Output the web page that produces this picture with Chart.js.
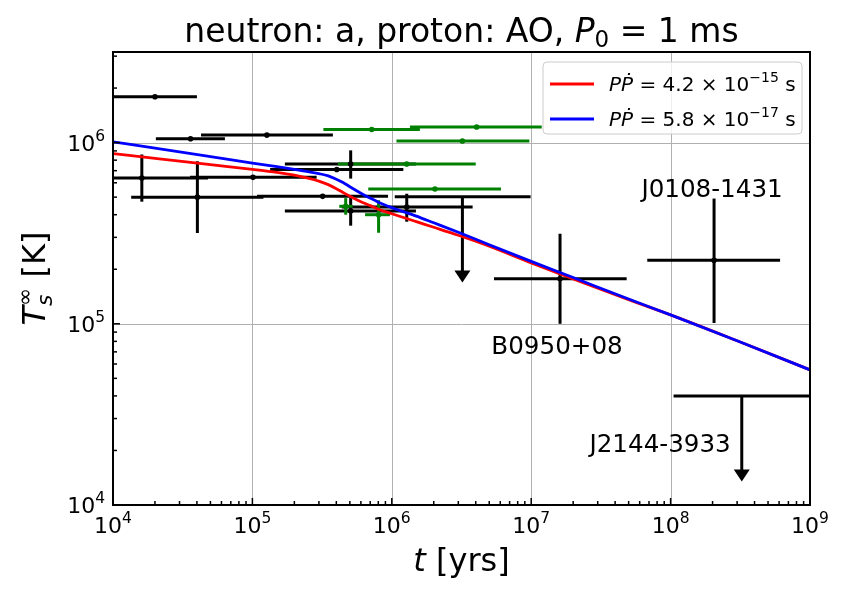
<!DOCTYPE html>
<html>
<head>
<meta charset="utf-8">
<script src="https://cdn.jsdelivr.net/npm/chart.js@4.4.0/dist/chart.umd.min.js"></script>
<style>
  html, body { margin: 0; padding: 0; background: #ffffff; }
  #wrap { width: 850px; height: 597px; position: relative; }
</style>
</head>
<body>
<div id="wrap"><canvas id="chart" width="850" height="597"></canvas></div>
<script>
"use strict";

// Axis ranges and decade ticks
const xMin = 1e4;
const xMax = 1e9;
const yMin = 1e4;
const yMax = Math.pow(10, 6.5);
const xTickExps = [4, 5, 6, 7, 8, 9];
const yTickExps = [4, 5, 6];

// Cooling curves: age [yr] -> T_s^inf [K]
const curveAge = [1e4, 2e4, 5e4, 1e5, 1.5e5, 2e5, 2.5e5, 3e5, 3.5e5, 4e5, 4.5e5, 5e5, 6e5, 7e5, 8e5,
  1e6, 1.5e6, 2e6, 3e6, 5e6, 1e7, 2e7, 5e7, 1e8, 3e8, 1e9];
const redTemp = [8.69e5, 8.19e5, 7.56e5, 7.12e5, 6.85e5, 6.61e5, 6.37e5, 6.13e5, 5.86e5, 5.57e5,
  5.29e5, 5.06e5, 4.72e5, 4.49e5, 4.29e5, 4.05e5, 3.66e5, 3.41e5, 3.08e5, 2.68e5, 2.17e5, 1.77e5,
  1.36e5, 1.12e5, 8.06e4, 5.57e4];
const blueTemp = [1.01e6, 9.33e5, 8.37e5, 7.70e5, 7.36e5, 7.12e5, 6.92e5, 6.74e5, 6.55e5, 6.28e5,
  6.01e5, 5.71e5, 5.26e5, 4.94e5, 4.69e5, 4.38e5, 3.93e5, 3.61e5, 3.20e5, 2.73e5, 2.21e5, 1.80e5,
  1.37e5, 1.12e5, 8.06e4, 5.57e4];
const curveLabels = ["4.2", "5.8"];
const curveExps = ["\u221215", "\u221217"];

// Black sources (null = no temperature error bar)
const blackAge = [2.0e4, 3.6e4, 1.27e5, 1.61e4, 1.01e5, 4.03e4, 3.19e5, 4.03e5, 5.07e5, 5.07e5, 1.28e6, 1.61e7, 2.05e8];
const blackAgeLo = [1.0e4, 2.03e4, 4.28e4, 5.4e3, 3.57e4, 1.35e4, 1.08e5, 1.34e5, 1.71e5, 1.71e5, 4.38e5, 5.41e6, 6.8e7];
const blackAgeHi = [4.0e4, 6.35e4, 3.78e5, 4.8e4, 2.89e5, 1.2e5, 9.4e5, 1.21e6, 1.49e6, 1.49e6, 3.8e6, 4.84e7, 6.1e8];
const blackTemp = [1.79e6, 1.05e6, 1.10e6, 6.38e5, 6.43e5, 5.0e5, 5.05e5, 7.1e5, 7.62e5, 4.19e5, 4.41e5, 1.77e5, 2.24e5];
const blackTempLo = [null, null, null, 4.72e5, null, 3.17e5, null, null, 6.33e5, 3.48e5, 3.66e5, 1.0e5, 1.01e5];
const blackTempHi = [null, null, null, 8.6e5, null, 7.89e5, null, null, 9.06e5, 5.05e5, 5.22e5, 3.14e5, 4.91e5];

// Green sources
const greenAge = [7.18e5, 4.06e6, 3.21e6, 1.28e6, 2.04e6, 4.67e5, 8.04e5];
const greenAgeLo = [3.23e5, 1.35e6, 1.08e6, 4.1e5, 6.78e5, 4.2e5, 6.43e5];
const greenAgeHi = [1.59e6, 1.19e7, 9.7e6, 4.0e6, 6.07e6, 5.24e5, 9.7e5];
const greenTemp = [1.18e6, 1.22e6, 1.02e6, 7.62e5, 5.55e5, 4.45e5, 4.0e5];
const greenTempLo = [null, null, null, null, null, 4.0e5, 3.18e5];
const greenTempHi = [null, null, null, null, null, 4.94e5, 4.81e5];

// Upper limits (arrow runs down to limArrowTo)
const limAge = [3.21e6, 3.24e8];
const limAgeLo = [1.05e6, 1.05e8];
const limAgeHi = [9.9e6, 1.0e9];
const limTemp = [5.03e5, 4.0e4];
const limArrowTo = [1.69e5, 1.35e4];

// Named sources
const sourceNames = ["B0950+08", "J0108-1431", "J2144-3933"];
const sourceAge = [1.61e7, 2.05e8, 3.24e8];
const sourceTemp = [1.77e5, 2.24e5, 4.0e4];

const FONT = "'DejaVu Sans', 'Liberation Sans', sans-serif";
const GREEN = "#008000";

// label offsets (px) relative to the source point
const namePlacement = [
  { dx: -3, dy: 66, align: "center" },
  { dx: -2, dy: -72, align: "center" },
  { dx: -11, dy: 47, align: "right" },
];

function fontOf(p) {
  return (p.italic ? "oblique " : "") + p.size + "px " + FONT;
}

/**
 * Draw a run of text pieces (sub/superscripts, italics) on one baseline
 */
function drawRich(ctx, parts, x, y, align) {
  let w = 0;
  parts.forEach((p) => {
    ctx.font = fontOf(p);
    p.w = ctx.measureText(p.t).width;
    if (!p.stack) w += p.w;
  });
  let cx = align === "center" ? x - w / 2 : align === "right" ? x - w : x;
  ctx.textAlign = "left";
  ctx.textBaseline = "alphabetic";
  parts.forEach((p) => {
    ctx.font = fontOf(p);
    ctx.fillText(p.t, cx + (p.dx || 0), y + (p.dy || 0));
    if (!p.stack) cx += p.w;
  });
  return w;
}

function minorValues(exps, max) {
  const out = [];
  for (let e = exps[0]; e <= exps[exps.length - 1]; e++) {
    for (let k = 2; k <= 9; k++) {
      const v = k * Math.pow(10, e);
      if (v < max) out.push(v);
    }
  }
  return out;
}

function line(ctx, x1, y1, x2, y2) {
  ctx.beginPath();
  ctx.moveTo(x1, y1);
  ctx.lineTo(x2, y2);
  ctx.stroke();
}

const gridPlugin = {
  id: "grid",
  beforeDatasetsDraw(chart) {
    const { ctx, chartArea: a, scales } = chart;
    ctx.save();
    ctx.strokeStyle = "#b0b0b0";
    ctx.lineWidth = 1;
    xTickExps.forEach((e) => {
      const px = Math.round(scales.x.getPixelForValue(Math.pow(10, e))) + 0.5;
      line(ctx, px, a.top, px, a.bottom);
    });
    yTickExps.forEach((e) => {
      const py = Math.round(scales.y.getPixelForValue(Math.pow(10, e))) + 0.5;
      line(ctx, a.left, py, a.right, py);
    });
    ctx.restore();
  },
};

function drawBars(chart, ages, lo, hi, temps, tlo, thi, color) {
  const { ctx, scales } = chart;
  ctx.strokeStyle = color;
  ctx.lineWidth = 3;
  ages.forEach((t, i) => {
    const px = scales.x.getPixelForValue(t);
    const py = scales.y.getPixelForValue(temps[i]);
    line(ctx, scales.x.getPixelForValue(lo[i]), py, scales.x.getPixelForValue(hi[i]), py);
    if (tlo[i] !== null) {
      line(ctx, px, scales.y.getPixelForValue(tlo[i]), px, scales.y.getPixelForValue(thi[i]));
    }
  });
}

const errorBarPlugin = {
  id: "errorBars",
  beforeDatasetsDraw(chart) {
    const { ctx, chartArea: a, scales } = chart;
    ctx.save();
    ctx.beginPath();
    ctx.rect(a.left, a.top, a.right - a.left, a.bottom - a.top);
    ctx.clip();
    drawBars(chart, blackAge, blackAgeLo, blackAgeHi, blackTemp, blackTempLo, blackTempHi, "#000000");
    drawBars(chart, greenAge, greenAgeLo, greenAgeHi, greenTemp, greenTempLo, greenTempHi, GREEN);

    // upper limits with arrows
    ctx.strokeStyle = "#000000";
    ctx.fillStyle = "#000000";
    limAge.forEach((t, i) => {
      const px = scales.x.getPixelForValue(t);
      const py = scales.y.getPixelForValue(limTemp[i]);
      const tip = scales.y.getPixelForValue(limArrowTo[i]);
      ctx.lineWidth = 3;
      line(ctx, scales.x.getPixelForValue(limAgeLo[i]), py, scales.x.getPixelForValue(limAgeHi[i]), py);
      line(ctx, px, py, px, tip - 10);
      ctx.beginPath();
      ctx.moveTo(px - 8, tip - 12);
      ctx.lineTo(px + 8, tip - 12);
      ctx.lineTo(px, tip);
      ctx.closePath();
      ctx.fill();
    });
    ctx.restore();
  },
};

const framePlugin = {
  id: "frame",
  afterDatasetsDraw(chart) {
    const { ctx, chartArea: a, scales } = chart;
    ctx.save();
    ctx.strokeStyle = "#000000";
    ctx.lineWidth = 1.5;
    // inward ticks
    xTickExps.forEach((e) => {
      const px = scales.x.getPixelForValue(Math.pow(10, e));
      line(ctx, px, a.bottom, px, a.bottom - 7);
    });
    minorValues(xTickExps, xMax).forEach((v) => {
      const px = scales.x.getPixelForValue(v);
      line(ctx, px, a.bottom, px, a.bottom - 4);
    });
    yTickExps.forEach((e) => {
      const py = scales.y.getPixelForValue(Math.pow(10, e));
      line(ctx, a.left, py, a.left + 7, py);
    });
    minorValues(yTickExps, yMax).forEach((v) => {
      const py = scales.y.getPixelForValue(v);
      line(ctx, a.left, py, a.left + 4, py);
    });
    ctx.lineWidth = 2;
    ctx.strokeRect(a.left, a.top, a.right - a.left, a.bottom - a.top);
    ctx.restore();
  },
};

const textPlugin = {
  id: "texts",
  afterDraw(chart) {
    const { ctx, chartArea: a, scales } = chart;
    const cx = (a.left + a.right) / 2;
    ctx.save();
    ctx.fillStyle = "#000000";

    // title
    drawRich(ctx, [
      { t: "neutron: a, proton: AO, ", size: 33 },
      { t: "P", size: 33, italic: true },
      { t: "0", size: 23, dy: 5 },
      { t: " = 1 ms", size: 33 },
    ], cx, 42, "center");

    // tick labels
    xTickExps.forEach((e) => {
      const px = scales.x.getPixelForValue(Math.pow(10, e));
      drawRich(ctx, [{ t: "10", size: 22 }, { t: String(e), size: 15.5, dy: -10 }], px, a.bottom + 28, "center");
    });
    yTickExps.forEach((e) => {
      const py = scales.y.getPixelForValue(Math.pow(10, e));
      drawRich(ctx, [{ t: "10", size: 22 }, { t: String(e), size: 15.5, dy: -10 }], a.left - 8, py + 8, "right");
    });

    // axis titles
    drawRich(ctx, [{ t: "t", size: 32, italic: true }, { t: " [yrs]", size: 32 }], cx, 571, "center");
    ctx.save();
    ctx.translate(45, (a.top + a.bottom) / 2);
    ctx.rotate(-Math.PI / 2);
    drawRich(ctx, [
      { t: "T", size: 32, italic: true },
      { t: "s", size: 22, italic: true, dy: 7, stack: true },
      { t: "\u221e", size: 22, dy: -13 },
      { t: " [K]", size: 32 },
    ], 0, 0, "center");
    ctx.restore();

    // source names
    sourceNames.forEach((name, i) => {
      const p = namePlacement[i];
      const px = scales.x.getPixelForValue(sourceAge[i]) + p.dx;
      const py = scales.y.getPixelForValue(sourceTemp[i]) + p.dy;
      drawRich(ctx, [{ t: name, size: 24.6 }], px, py + 9, p.align);
    });

    // legend
    const lx = 543, ly = 62, lw = 259, lh = 72;
    ctx.beginPath();
    ctx.roundRect(lx, ly, lw, lh, 4);
    ctx.fillStyle = "rgba(255,255,255,0.8)";
    ctx.fill();
    ctx.strokeStyle = "#cccccc";
    ctx.lineWidth = 1;
    ctx.stroke();
    const colors = ["#ff0000", "#0000ff"];
    curveLabels.forEach((lab, i) => {
      const y = 84 + i * 35;
      ctx.strokeStyle = colors[i];
      ctx.lineWidth = 2.8;
      line(ctx, 550, y, 594, y);
      ctx.fillStyle = "#000000";
      drawRich(ctx, [
        { t: "P\u1E56", size: 20, italic: true },
        { t: " = " + lab + " \u00d7 10", size: 20 },
        { t: curveExps[i], size: 14, dy: -9 },
        { t: " s", size: 20 },
      ], 609, y + 7, "left");
    });
    ctx.restore();
  },
};

function toPoints(xs, ys) {
  return xs.map((x, i) => ({ x, y: ys[i] }));
}

const chart = new Chart(document.getElementById("chart"), {
  type: "scatter",
  data: {
    datasets: [
      {
        label: "red",
        data: toPoints(curveAge, redTemp),
        showLine: true,
        borderColor: "#ff0000",
        borderWidth: 2.8,
        pointRadius: 0,
        cubicInterpolationMode: "monotone",
        order: 1,
      },
      {
        label: "blue",
        data: toPoints(curveAge, blueTemp),
        showLine: true,
        borderColor: "#0000ff",
        borderWidth: 2.8,
        pointRadius: 0,
        cubicInterpolationMode: "monotone",
        order: 0,
      },
      {
        label: "black",
        data: toPoints(blackAge, blackTemp),
        pointRadius: 2.8,
        pointBackgroundColor: "#000000",
        pointBorderWidth: 0,
        order: 3,
      },
      {
        label: "green",
        data: toPoints(greenAge, greenTemp),
        pointRadius: 2.8,
        pointBackgroundColor: GREEN,
        pointBorderWidth: 0,
        order: 2,
      },
    ],
  },
  options: {
    responsive: false,
    animation: false,
    devicePixelRatio: 1,
    layout: { padding: { top: 52, right: 40, left: 0, bottom: 0 } },
    plugins: {
      legend: { display: false },
      title: { display: false },
      tooltip: { enabled: false },
    },
    scales: {
      x: {
        type: "logarithmic",
        min: xMin,
        max: xMax,
        ticks: { display: false },
        grid: { display: false },
        border: { display: false },
        afterFit: (s) => { s.height = 92; },
      },
      y: {
        type: "logarithmic",
        min: yMin,
        max: yMax,
        ticks: { display: false },
        grid: { display: false },
        border: { display: false },
        afterFit: (s) => { s.width = 113; },
      },
    },
  },
  plugins: [gridPlugin, errorBarPlugin, framePlugin, textPlugin],
});
</script>
</body>
</html>
